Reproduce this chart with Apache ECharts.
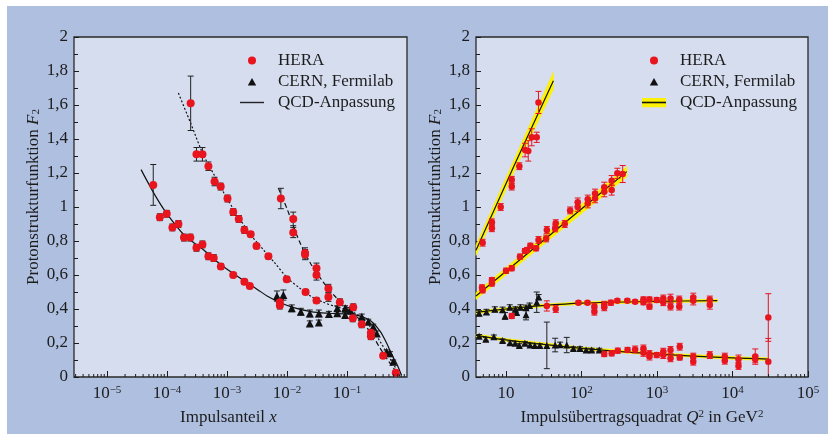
<!DOCTYPE html>
<html>
<head>
<meta charset="utf-8">
<script src="https://cdn.jsdelivr.net/npm/echarts@6/dist/echarts.min.js"></script>
<style>
  html, body { margin: 0; padding: 0; background: #fff; }
  #bg { position: absolute; left: 7px; top: 6px; width: 821px; height: 428px; background: #AFBFE0; }
  #chart { position: absolute; left: 0; top: 0; width: 828px; height: 434px; }
</style>
</head>
<body>
<div id="bg"></div>
<div id="chart"></div>
<script>
// Links: F2 gegen x, rechts: F2 gegen Q^2
// Messpunkte: [x bzw. Q^2, F2, Fehler]

var heraQ35 = [
  [5.9e-5, 1.13, 0.12], [7.6e-5, 0.94, 0.02], [9.9e-5, 0.96, 0.02], [1.23e-4, 0.88, 0.02],
  [1.55e-4, 0.90, 0.02], [1.92e-4, 0.82, 0.02], [2.45e-4, 0.82, 0.02], [3.1e-4, 0.76, 0.02],
  [3.9e-4, 0.78, 0.02], [4.9e-4, 0.71, 0.02], [6.0e-4, 0.70, 0.02], [7.9e-4, 0.65, 0.015],
  [1.27e-3, 0.60, 0.015], [1.95e-3, 0.56, 0.015], [2.4e-3, 0.535, 0.015],
  [7.6e-3, 0.44, 0.02], [7.6e-3, 0.42, 0.02]
];
var heraQ15 = [
  [2.48e-4, 1.61, 0.16], [3.1e-4, 1.31, 0.04], [3.9e-4, 1.31, 0.04], [4.9e-4, 1.24, 0.025],
  [6.2e-4, 1.15, 0.025], [7.85e-4, 1.12, 0.02], [1.02e-3, 1.05, 0.02], [1.27e-3, 0.97, 0.02],
  [1.57e-3, 0.93, 0.02], [1.95e-3, 0.865, 0.02], [2.48e-3, 0.84, 0.015], [3.1e-3, 0.77, 0.015],
  [4.9e-3, 0.71, 0.015], [9.9e-3, 0.575, 0.015], [2.04e-2, 0.50, 0.015], [3.1e-2, 0.45, 0.015]
];
var heraQ650 = [
  [7.9e-3, 1.05, 0.06], [1.27e-2, 0.93, 0.04], [1.27e-2, 0.85, 0.03], [2.0e-2, 0.73, 0.03],
  [2.0e-2, 0.72, 0.03], [3.1e-2, 0.64, 0.03], [3.1e-2, 0.60, 0.03], [4.9e-2, 0.52, 0.025],
  [4.9e-2, 0.47, 0.025], [7.6e-2, 0.44, 0.02], [0.127, 0.41, 0.02], [0.125, 0.345, 0.02],
  [0.176, 0.31, 0.02], [0.25, 0.26, 0.02], [0.25, 0.24, 0.02], [0.40, 0.125, 0.015], [0.65, 0.025, 0.01]
];
var cernLeft = [
  [6.8e-3, 0.476, 0.03], [8.7e-3, 0.482, 0.03], [1.2e-2, 0.404, 0.02], [1.7e-2, 0.384, 0.02],
  [2.4e-2, 0.374, 0.02], [2.4e-2, 0.315, 0.015], [3.4e-2, 0.374, 0.02], [3.4e-2, 0.32, 0.015],
  [5.0e-2, 0.371, 0.015], [6.9e-2, 0.404, 0.015], [6.9e-2, 0.375, 0.015], [9.3e-2, 0.404, 0.015],
  [9.3e-2, 0.365, 0.015], [0.112, 0.394, 0.015], [0.176, 0.355, 0.015], [0.226, 0.325, 0.015],
  [0.274, 0.296, 0.015], [0.313, 0.256, 0.015], [0.457, 0.149, 0.01], [0.52, 0.139, 0.01], [0.59, 0.09, 0.01]
];

// QCD-Kurven links: [x, F2]
var fitQ35 = [
  [3.7e-5, 1.22], [6.3e-5, 1.07], [1e-4, 0.96], [2e-4, 0.83], [4e-4, 0.75], [7.9e-4, 0.66],
  [1.6e-3, 0.585], [3.2e-3, 0.515], [5e-3, 0.47], [7.9e-3, 0.435], [1.26e-2, 0.41], [2.5e-2, 0.385],
  [5e-2, 0.375], [0.1, 0.37], [0.16, 0.36], [0.25, 0.33], [0.355, 0.27], [0.457, 0.20],
  [0.56, 0.13], [0.68, 0.075], [0.81, 0.01]
];
var fitQ15 = [
  [1.55e-4, 1.67], [2.5e-4, 1.49], [4e-4, 1.31], [6.3e-4, 1.18], [1e-3, 1.05], [1.6e-3, 0.935],
  [2.5e-3, 0.835], [4e-3, 0.75], [6.3e-3, 0.67], [1e-2, 0.585], [1.6e-2, 0.525], [2.5e-2, 0.475],
  [4e-2, 0.44], [6.3e-2, 0.415], [0.1, 0.395], [0.16, 0.36], [0.25, 0.29], [0.355, 0.21],
  [0.5, 0.12], [0.63, 0.06], [0.76, 0.01]
];
var fitQ650 = [
  [7.2e-3, 1.11], [1e-2, 0.99], [1.6e-2, 0.80], [2.5e-2, 0.665], [4e-2, 0.56], [6.3e-2, 0.475],
  [0.1, 0.41], [0.16, 0.34], [0.25, 0.26], [0.355, 0.17], [0.5, 0.09], [0.63, 0.04], [0.76, 0.005]
];

var heraX0005 = [
  [4.9, 0.79, 0.02], [6.5, 0.91, 0.02], [6.5, 0.875, 0.02], [8.5, 1.0, 0.02], [11.9, 1.16, 0.02],
  [11.9, 1.12, 0.02], [15, 1.24, 0.02], [17.9, 1.335, 0.04], [19.7, 1.33, 0.06], [21.9, 1.41, 0.05],
  [25.5, 1.41, 0.03], [26.9, 1.615, 0.065]
];
var heraX005 = [
  [4.8, 0.527, 0.015], [4.9, 0.51, 0.015], [6.5, 0.57, 0.015], [6.5, 0.55, 0.015], [10, 0.625, 0.015],
  [11.9, 0.64, 0.015], [15.3, 0.708, 0.015], [17.8, 0.741, 0.015], [19, 0.747, 0.015], [21, 0.772, 0.015],
  [25, 0.757, 0.015], [26.9, 0.806, 0.02], [34, 0.815, 0.02], [34.7, 0.865, 0.02], [44.7, 0.874, 0.02],
  [45.5, 0.905, 0.02], [60, 0.90, 0.02], [70.6, 0.98, 0.02], [89, 1.028, 0.025], [89, 1.0, 0.025],
  [121, 1.045, 0.025], [121, 1.02, 0.025], [151, 1.08, 0.025], [151, 1.05, 0.025], [200, 1.116, 0.03],
  [200, 1.09, 0.03], [251, 1.155, 0.03], [251, 1.10, 0.03], [298, 1.198, 0.03], [351, 1.194, 0.05]
];
var heraX008 = [
  [11.9, 0.359, 0.015], [34.7, 0.418, 0.03], [45.5, 0.40, 0.02], [91, 0.437, 0.01], [120, 0.437, 0.01],
  [148, 0.414, 0.02], [148, 0.384, 0.02], [200, 0.425, 0.02], [200, 0.41, 0.02], [245, 0.437, 0.015],
  [298, 0.449, 0.01], [404, 0.449, 0.01], [513, 0.443, 0.01], [661, 0.456, 0.015], [661, 0.44, 0.015],
  [794, 0.456, 0.015], [794, 0.414, 0.015], [991, 0.453, 0.015], [1210, 0.462, 0.02], [1210, 0.44, 0.02],
  [1510, 0.462, 0.025], [1510, 0.414, 0.02], [1970, 0.456, 0.02], [1970, 0.414, 0.02], [3020, 0.468, 0.025],
  [3020, 0.449, 0.025], [5000, 0.456, 0.02], [5000, 0.424, 0.025], [29800, 0.35, 0.14]
];
var heraX04 = [
  [200, 0.135, 0.015], [251, 0.139, 0.015], [302, 0.155, 0.015], [407, 0.159, 0.015], [513, 0.162, 0.02],
  [661, 0.168, 0.02], [661, 0.142, 0.02], [794, 0.135, 0.02], [794, 0.12, 0.02], [991, 0.129, 0.015],
  [1210, 0.149, 0.02], [1210, 0.129, 0.02], [1510, 0.159, 0.02], [1510, 0.11, 0.02], [2000, 0.178, 0.02],
  [2000, 0.115, 0.015], [3020, 0.12, 0.02], [3020, 0.09, 0.02], [5000, 0.129, 0.02], [7900, 0.12, 0.02],
  [7900, 0.096, 0.02], [12000, 0.104, 0.025], [12000, 0.065, 0.02], [20000, 0.12, 0.045],
  [20000, 0.104, 0.02], [29800, 0.09, 0.137]
];
var cernX008 = [
  [4.4, 0.375, 0.015], [5.5, 0.383, 0.015], [7.1, 0.398, 0.015], [9.0, 0.396, 0.015], [9.7, 0.359, 0.02],
  [11.2, 0.41, 0.015], [13.3, 0.398, 0.015], [13.8, 0.38, 0.015], [15.5, 0.41, 0.015], [18.4, 0.408, 0.015],
  [18.4, 0.366, 0.03], [20.5, 0.42, 0.015], [25.5, 0.44, 0.06], [27, 0.47, 0.015]
];
var cernX04 = [
  [4.4, 0.24, 0.01], [5.4, 0.222, 0.01], [6.9, 0.237, 0.01], [9.0, 0.214, 0.01], [11.3, 0.202, 0.01],
  [13.2, 0.198, 0.01], [15, 0.186, 0.01], [17.8, 0.198, 0.01], [20.8, 0.188, 0.01], [24, 0.186, 0.01],
  [28, 0.186, 0.01], [34.7, 0.186, 0.137], [44.7, 0.188, 0.04], [52, 0.19, 0.015], [63.7, 0.188, 0.045],
  [78, 0.168, 0.01], [95.5, 0.168, 0.01], [115, 0.159, 0.01], [136, 0.159, 0.01], [172, 0.159, 0.01]
];

// QCD-Anpassung rechts: [Q^2, F2, halbe Bandbreite]
var fitX0005 = [[4, 0.745, 0.03], [13, 1.25, 0.035], [42.4, 1.743, 0.05]];
var fitX005 = [[4, 0.476, 0.02], [40, 0.843, 0.025], [398, 1.208, 0.03]];
var fitX008 = [[4, 0.38, 0.008], [10, 0.40, 0.008], [30, 0.42, 0.008], [100, 0.435, 0.008], [1000, 0.445, 0.008], [6300, 0.449, 0.008]];
var fitX04 = [[4, 0.245, 0.008], [10, 0.218, 0.008], [100, 0.168, 0.008], [1000, 0.135, 0.008], [10000, 0.112, 0.008], [30000, 0.105, 0.008]];

// Beschriftungen an Datenpositionen
var notesLeft = [
  [4.6e-6, 1.524, '{i|Q}{s|2}{n| = 15 GeV}{s|2}'],
  [1.26e-2, 1.147, '{i|Q}{s|2}{n| = 650 GeV}{s|2}'],
  [4.6e-6, 0.688, '{i|Q}{s|2}{n| = 3,5 GeV}{s|2}']
];
var notesRight = [
  [17.9, 1.865, '{i|x}{n| = 0,0005}'],
  [596, 1.206, '{i|x}{n| = 0,005}'],
  [2735, 0.559, '{i|x}{n| = 0,08}'],
  [3185, 0.235, '{i|x}{n| = 0,4}']
];

var xMinLeft = 2.82e-6, xMaxLeft = 1;
var xMinRight = 4, xMaxRight = 1e5;

var FONT = 'Liberation Serif';
var INK = '#1c1c1c';
var RED = '#E8141E';
var YELLOW = '#FFF200';

// kleine Teilstriche fuer die log-Achsen (2..9 je Dekade)
function minorTicks(lo, hi) {
  var out = [];
  for (var k = -7; k <= 5; k++) {
    for (var m = 2; m <= 9; m++) {
      var v = m * Math.pow(10, k);
      if (v > lo * 1.0001 && v < hi) out.push([v, 0]);
    }
  }
  return out;
}

var rich = {
  n: { fontFamily: FONT, fontSize: 17, color: INK },
  i: { fontFamily: FONT, fontSize: 17, fontStyle: 'italic', color: INK },
  s: { fontFamily: FONT, fontSize: 11, color: INK, verticalAlign: 'top' },
  sub: { fontFamily: FONT, fontSize: 11, color: INK, verticalAlign: 'bottom' },
  b: { fontFamily: FONT, fontSize: 17, color: INK, verticalAlign: 'bottom' }
};

function svgIcon(body) {
  var svg = "<svg xmlns='http://www.w3.org/2000/svg' width='33' height='10' viewBox='0 0 33 10'>" + body + '</svg>';
  return 'image://data:image/svg+xml;charset=utf-8,' + encodeURIComponent(svg);
}
var iconDot = svgIcon("<circle cx='12' cy='5' r='4' fill='" + RED + "'/>");
var iconTri = svgIcon("<polygon points='7.8,9 16.2,9 12,1.6' fill='#111'/>");
var iconLine = svgIcon("<rect x='0' y='4.3' width='24' height='1.4' fill='#222'/>");
var iconBand = svgIcon("<rect x='0' y='0' width='24' height='10' fill='" + YELLOW + "'/><rect x='0' y='4.2' width='24' height='1.6' fill='#111'/>");

function errSeries(data, ai, color) {
  return {
    type: 'custom', xAxisIndex: ai, yAxisIndex: ai, data: data, z: 3, silent: true, clip: true,
    encode: { x: 0, y: 1 },
    renderItem: function (params, api) {
      var x = api.value(0), y = api.value(1), e = api.value(2);
      var lo = api.coord([x, y - e]), hi = api.coord([x, y + e]);
      var w = 3, st = { stroke: color, lineWidth: 1 };
      return {
        type: 'group', children: [
          { type: 'line', shape: { x1: lo[0], y1: lo[1], x2: hi[0], y2: hi[1] }, style: st },
          { type: 'line', shape: { x1: lo[0] - w, y1: lo[1], x2: lo[0] + w, y2: lo[1] }, style: st },
          { type: 'line', shape: { x1: hi[0] - w, y1: hi[1], x2: hi[0] + w, y2: hi[1] }, style: st }
        ]
      };
    }
  };
}

function bandSeries(fit, ai) {
  return {
    type: 'custom', xAxisIndex: ai, yAxisIndex: ai, data: fit, z: 1, silent: true,
    encode: { x: 0, y: 1 },
    renderItem: function (params, api) {
      var i = params.dataIndex;
      if (i >= fit.length - 1) return;
      var a = fit[i], b = fit[i + 1];
      var pts = [
        api.coord([a[0], a[1] - a[2]]), api.coord([b[0], b[1] - b[2]]),
        api.coord([b[0], b[1] + b[2]]), api.coord([a[0], a[1] + a[2]])
      ];
      return { type: 'polygon', shape: { points: pts }, style: { fill: YELLOW, stroke: YELLOW, lineWidth: 0.6 } };
    }
  };
}

function fitLine(fit, ai, type, width) {
  return {
    name: 'QCD-Anpassung', type: 'line', xAxisIndex: ai, yAxisIndex: ai, z: 2, silent: true,
    data: fit.map(function (d) { return [d[0], d[1]]; }),
    symbol: 'none', smooth: 0.3,
    lineStyle: { color: '#111', width: width, type: type }
  };
}

function tickSeries(data, ai) {
  return {
    type: 'custom', xAxisIndex: ai, yAxisIndex: ai, data: data, z: 5, silent: true,
    encode: { x: 0, y: 1 },
    renderItem: function (params, api) {
      var p = api.coord([api.value(0), 0]);
      return { type: 'line', shape: { x1: p[0], y1: p[1], x2: p[0], y2: p[1] - 3 }, style: { stroke: INK, lineWidth: 1 } };
    }
  };
}

function noteSeries(data, ai) {
  return {
    type: 'scatter', xAxisIndex: ai, yAxisIndex: ai, data: data, z: 6, silent: true,
    symbolSize: 1, itemStyle: { opacity: 0 },
    label: {
      show: true, position: 'right', distance: 0,
      formatter: function (p) { return p.data[2]; }, rich: rich
    }
  };
}

function powLabel(v, plainTen) {
  var k = Math.round(Math.log(v) / Math.LN10);
  if (plainTen && k === 1) return '{b|10}';
  return '{b|10}{s|' + (k < 0 ? '\u2212' : '') + Math.abs(k) + '}';
}

function yAxisCfg(gi) {
  return {
    type: 'value', gridIndex: gi, min: 0, max: 2, interval: 0.2,
    name: '{n|Protonstrukturfunktion }{i|F}{sub|2}',
    nameLocation: 'middle', nameGap: 32,
    nameTextStyle: { rich: rich, padding: [0, 0, 0, 20] },
    axisLine: { show: false },
    axisTick: { show: true, inside: true, length: 5, lineStyle: { color: INK } },
    minorTick: { show: true, splitNumber: 2, length: 4, lineStyle: { color: INK } },
    splitLine: { show: false },
    axisLabel: {
      margin: 6, fontFamily: FONT, fontSize: 17, color: INK,
      formatter: function (v) { return String(v).replace('.', ','); }
    }
  };
}

function legendCfg(left, qcdIcon) {
  return {
    left: left, top: 52, orient: 'vertical', itemWidth: 33, itemHeight: 10, itemGap: 4,
    padding: 0, selectedMode: false,
    textStyle: { fontFamily: FONT, fontSize: 17, color: INK },
    data: [
      { name: 'HERA', icon: iconDot },
      { name: 'CERN, Fermilab', icon: iconTri },
      { name: 'QCD-Anpassung', icon: qcdIcon }
    ]
  };
}

var chart = echarts.init(document.getElementById('chart'));
chart.setOption({
  backgroundColor: 'transparent',
  animation: false,
  grid: [
    { left: 74, top: 37, width: 333, height: 340, show: true, backgroundColor: '#D5DDEF', borderColor: '#2a2a2a', borderWidth: 1.3 },
    { left: 476, top: 37, width: 332, height: 340, show: true, backgroundColor: '#D5DDEF', borderColor: '#2a2a2a', borderWidth: 1.3 }
  ],
  xAxis: [
    {
      type: 'log', gridIndex: 0, min: xMinLeft, max: xMaxLeft, logBase: 10,
      name: '{n|Impulsanteil }{i|x}', nameLocation: 'middle', nameGap: 32,
      nameTextStyle: { rich: rich, padding: [0, 24, 0, 0] },
      axisLine: { show: false },
      axisTick: { show: true, inside: true, length: 6, lineStyle: { color: INK } },
      splitLine: { show: false },
      axisLabel: {
        margin: 8, interval: 0, showMinLabel: false, showMaxLabel: false, rich: rich,
        formatter: function (v) { return powLabel(v, false); }
      }
    },
    {
      type: 'log', gridIndex: 1, min: xMinRight, max: xMaxRight, logBase: 10,
      name: '{n|Impuls\u00fcbertragsquadrat }{i|Q}{s|2}{n| in GeV}{s|2}', nameLocation: 'middle', nameGap: 32,
      nameTextStyle: { rich: rich },
      axisLine: { show: false },
      axisTick: { show: true, inside: true, length: 6, lineStyle: { color: INK } },
      splitLine: { show: false },
      axisLabel: {
        margin: 8, interval: 0, showMinLabel: false, showMaxLabel: true, rich: rich,
        formatter: function (v) { return powLabel(v, true); }
      }
    }
  ],
  yAxis: [yAxisCfg(0), yAxisCfg(1)],
  legend: [legendCfg(240, iconLine), legendCfg(642, iconBand)],
  series: [
    // links
    fitLine(fitQ35, 0, 'solid', 1.2),
    fitLine(fitQ15, 0, [2, 2], 1.2),
    fitLine(fitQ650, 0, [5, 3], 1.2),
    errSeries(heraQ35.concat(heraQ15, heraQ650), 0, '#222'),
    errSeries(cernLeft, 0, '#222'),
    { name: 'CERN, Fermilab', type: 'scatter', xAxisIndex: 0, yAxisIndex: 0, z: 4, silent: true,
      symbol: 'triangle', symbolSize: 8, itemStyle: { color: '#111', opacity: 1 }, data: cernLeft },
    { name: 'HERA', type: 'scatter', xAxisIndex: 0, yAxisIndex: 0, z: 4, silent: true,
      symbol: 'circle', symbolSize: 8, itemStyle: { color: RED, opacity: 1 }, data: heraQ35.concat(heraQ15, heraQ650) },
    tickSeries(minorTicks(xMinLeft, xMaxLeft), 0),
    noteSeries(notesLeft, 0),
    // rechts
    bandSeries(fitX0005, 1), bandSeries(fitX005, 1), bandSeries(fitX008, 1), bandSeries(fitX04, 1),
    fitLine(fitX0005, 1, 'solid', 1.2),
    fitLine(fitX005, 1, 'solid', 1.2),
    fitLine(fitX008, 1, 'solid', 1.2),
    fitLine(fitX04, 1, 'solid', 1.2),
    errSeries(heraX0005.concat(heraX005, heraX008, heraX04), 1, RED),
    errSeries(cernX008.concat(cernX04), 1, '#222'),
    { name: 'CERN, Fermilab', type: 'scatter', xAxisIndex: 1, yAxisIndex: 1, z: 4, silent: true,
      symbol: 'triangle', symbolSize: 7, itemStyle: { color: '#111', opacity: 1 }, data: cernX008.concat(cernX04) },
    { name: 'HERA', type: 'scatter', xAxisIndex: 1, yAxisIndex: 1, z: 4, silent: true,
      symbol: 'circle', symbolSize: 6.5, itemStyle: { color: RED, opacity: 1 }, data: heraX0005.concat(heraX005, heraX008, heraX04) },
    tickSeries(minorTicks(xMinRight, xMaxRight), 1),
    noteSeries(notesRight, 1)
  ]
});
</script>
</body>
</html>
